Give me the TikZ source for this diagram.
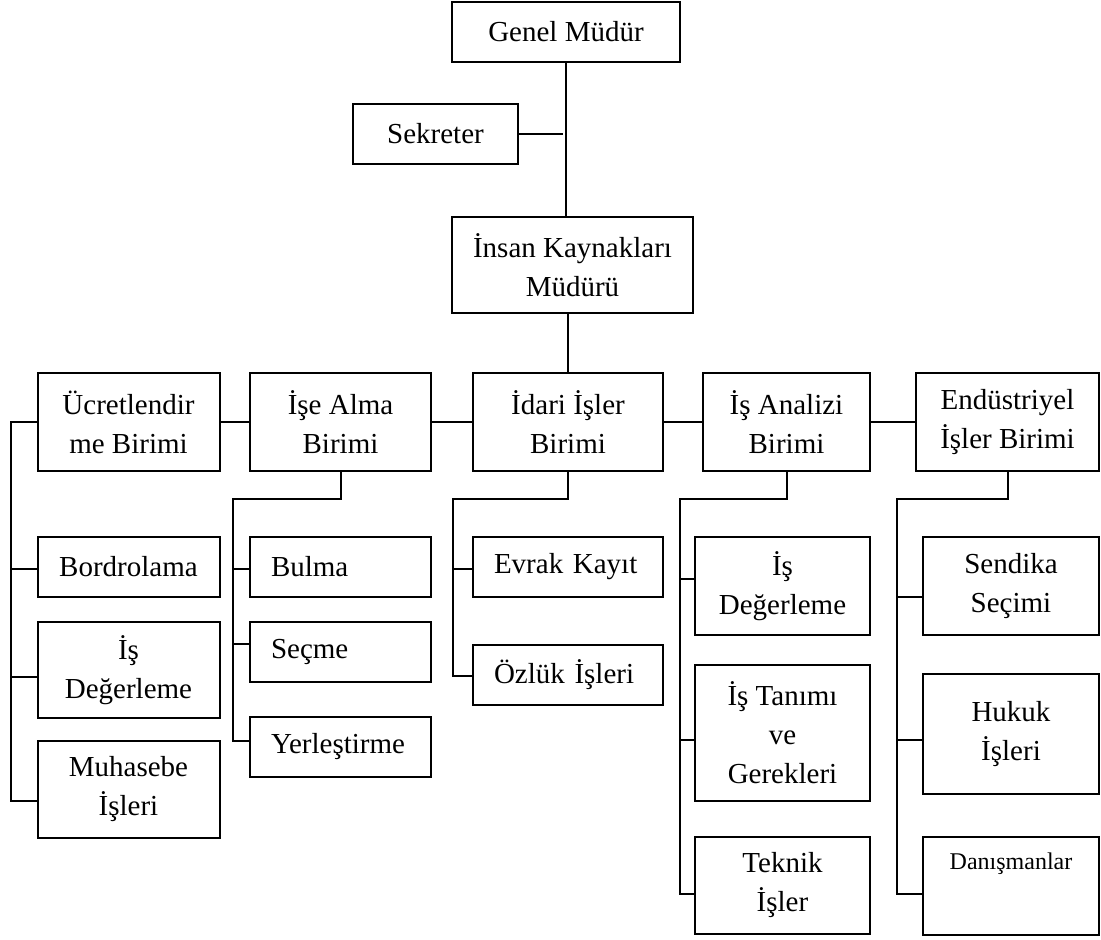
\documentclass[tikz,border=0pt]{standalone}
\usepackage{fontspec}
\setmainfont{Liberation Serif}
\begin{document}
\begin{tikzpicture}[x=0.5pt,y=-0.5pt,
  bx/.style={draw, line width=1pt, inner sep=0pt, align=center,
    font=\fontsize{14.5}{19.5}\selectfont},
  lbx/.style={draw, line width=1pt, inner ysep=0pt, inner xsep=10.5pt, align=left,
    font=\fontsize{14.5}{19.5}\selectfont},
  cn/.style={line width=1pt}]
\useasboundingbox (0,0) rectangle (1101,940);
% top
\node[bx, minimum width=114pt, minimum height=30pt] (gm) at (566,32) {Genel Müdür};
\node[bx, minimum width=82.5pt, minimum height=30pt] (sek) at (435.5,134) {Sekreter};
\node[bx, minimum width=120.5pt, minimum height=48pt] (ik) at (572.5,265) {İnsan Kaynakları\\Müdürü};
% level 2
\node[bx, minimum width=91pt, minimum height=49pt] (ucr) at (128.5,422) {Ücretlendir\\me Birimi};
\node[bx, minimum width=90.5pt, minimum height=49pt] (ise) at (340.5,422) {İşe Alma\\Birimi};
\node[bx, minimum width=95pt, minimum height=49pt] (ida) at (568,422) {İdari İşler\\Birimi};
\node[bx, minimum width=83.5pt, minimum height=49pt] (ian) at (786.5,422) {İş Analizi\\Birimi};
\node[bx, minimum width=91.5pt, minimum height=49pt] (end) at (1007.5,422) {Endüstriyel\\İşler Birimi};
% column 1
\node[bx, minimum width=91pt, minimum height=30pt] (bor) at (128.5,567) {Bordrolama};
\node[bx, minimum width=91pt, minimum height=48pt] (isd1) at (128.5,670) {İş\\Değerleme};
\node[bx, minimum width=91pt, minimum height=48.5pt] (muh) at (128.5,789.5) {Muhasebe\\İşleri};
% column 2
\node[lbx, text width=69.5pt, minimum height=30pt] (bul) at (340.5,567) {Bulma};
\node[lbx, text width=69.5pt, minimum height=30pt] (sec) at (340.5,651.5) {Seçme};
\node[lbx, text width=69.5pt, minimum height=30pt] (yer) at (340.5,747) {Yerleştirme};
% column 3
\node[lbx, text width=74pt, minimum height=30pt] (evr) at (568,567) {Evrak Kayıt};
\node[lbx, text width=74pt, minimum height=30pt] (ozl) at (568,675) {Özlük İşleri};
% column 4
\node[bx, minimum width=87.5pt, minimum height=49pt] (isd2) at (782.5,586) {İş\\Değerleme};
\node[bx, minimum width=87.5pt, minimum height=68pt] (ist) at (782.5,733) {İş Tanımı\\ve\\Gerekleri};
\node[bx, minimum width=87.5pt, minimum height=48.5pt] (tek) at (782.5,885.5) {Teknik\\İşler};
% column 5
\node[bx, minimum width=88pt, minimum height=49pt] (sen) at (1011,586) {Sendika\\Seçimi};
\node[bx, minimum width=88pt, minimum height=60pt] (huk) at (1011,734) {Hukuk\\İşleri};
\node[bx, minimum width=88pt, minimum height=49pt] (dan) at (1011,886) {};
\node[inner sep=0pt, font=\fontsize{12}{14}\selectfont] (dantxt) at (1011,864) {Danışmanlar};
% top connectors
\draw[cn] (gm.south) -- (gm.south |- ik.north);
\draw[cn, shorten >=1.5pt] (sek.east) -- (sek.east -| gm.south);
\draw[cn] (ida.north |- ik.south) -- (ida.north);
% level 2 connectors
\draw[cn] (ucr.east) -- (ise.west);
\draw[cn] (ise.east) -- (ida.west);
\draw[cn] (ida.east) -- (ian.west);
\draw[cn] (ian.east) -- (end.west);
% bus 1
\coordinate (bA0) at (10.7,422);
\coordinate (bA1) at (10.7,569);
\coordinate (bA2) at (10.7,677);
\coordinate (bA3) at (10.7,801);
\draw[cn] (ucr.west) -- (bA0) -- (bA3) -- (bA3 -| muh.west);
\draw[cn] (bA1) -- (bA1 -| bor.west);
\draw[cn] (bA2) -- (bA2 -| isd1.west);
% bus 2
\coordinate (bB0) at (233,499);
\coordinate (bB1) at (233,569);
\coordinate (bB2) at (233,644);
\coordinate (bB3) at (233,741);
\draw[cn] (ise.south) |- (bB0) -- (bB3) -- (bB3 -| yer.west);
\draw[cn] (bB1) -- (bB1 -| bul.west);
\draw[cn] (bB2) -- (bB2 -| sec.west);
% bus 3
\coordinate (bC0) at (453,499);
\coordinate (bC1) at (453,569);
\coordinate (bC2) at (453,676);
\draw[cn] (ida.south) |- (bC0) -- (bC2) -- (bC2 -| ozl.west);
\draw[cn] (bC1) -- (bC1 -| evr.west);
% bus 4
\coordinate (bD0) at (680,499);
\coordinate (bD1) at (680,579);
\coordinate (bD2) at (680,740);
\coordinate (bD3) at (680,894);
\draw[cn] (ian.south) |- (bD0) -- (bD3) -- (bD3 -| tek.west);
\draw[cn] (bD1) -- (bD1 -| isd2.west);
\draw[cn] (bD2) -- (bD2 -| ist.west);
% bus 5
\coordinate (bE0) at (897,499);
\coordinate (bE1) at (897,597);
\coordinate (bE2) at (897,740);
\coordinate (bE3) at (897,894);
\draw[cn] (end.south) |- (bE0) -- (bE3) -- (bE3 -| dan.west);
\draw[cn] (bE1) -- (bE1 -| sen.west);
\draw[cn] (bE2) -- (bE2 -| huk.west);
\end{tikzpicture}
\end{document}
